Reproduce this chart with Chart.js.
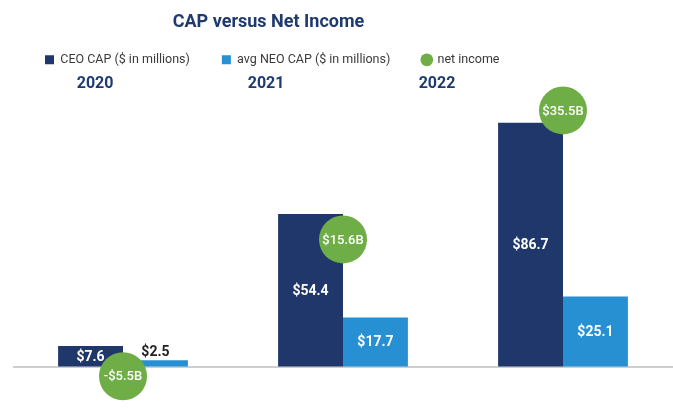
<!DOCTYPE html>
<html>
<head>
<meta charset="utf-8">
<script src="https://cdn.jsdelivr.net/npm/chart.js@4"></script>
<style>
  body { margin: 0; background: #fff; }
  #wrap { width: 673px; height: 410px; position: relative; }
</style>
</head>
<body>
<div id="wrap"><canvas id="capChart"></canvas></div>
<script>
// values
const years = [2020, 2021, 2022];
const ceoCap = [7.6, 54.4, 86.7];      // $ in millions
const neoCap = [2.5, 17.7, 25.1];      // $ in millions
const netIncome = [-5.5, 15.6, 35.5];  // $ in billions

const navy = '#1f376b';
const lightBlue = '#2690d2';
const green = '#6fad46';

// labels inside / above the bars and inside the income circles
const valueLabels = {
    id: 'valueLabels',
    afterLayout(chart) {
        // the title sits left of centre in the original
        chart.titleBlock.left = 0;
        chart.titleBlock.right = 537;
    },
    afterDatasetsDraw(chart) {
        const ctx = chart.ctx;
        ctx.save();
        ctx.textAlign = 'center';
        chart.data.datasets.forEach((ds, i) => {
            const meta = chart.getDatasetMeta(i);
            meta.data.forEach((el, j) => {
                const v = ds.data[j];
                if (ds.type === 'line') {
                    ctx.font = '500 13px Roboto';
                    ctx.fillStyle = '#fff';
                    ctx.textBaseline = 'middle';
                    const txt = (v < 0 ? '-$' : '$') + Math.abs(v).toFixed(1) + 'B';
                    ctx.fillText(txt, el.x, el.y + 1);
                } else {
                    ctx.font = 'bold 14px Roboto';
                    const h = el.base - el.y;
                    const txt = '$' + v.toFixed(1);
                    if (h < 15) {
                        ctx.fillStyle = '#222';
                        ctx.textBaseline = 'bottom';
                        ctx.fillText(txt, el.x, el.y - 1);
                    } else {
                        ctx.fillStyle = '#fff';
                        ctx.textBaseline = 'middle';
                        ctx.fillText(txt, el.x, (el.y + el.base) / 2 + 1);
                    }
                }
            });
        });
        ctx.restore();
    }
};

const ctx = document.getElementById('capChart').getContext('2d');
new Chart(ctx, {
    data: {
        labels: years.map(String),
        datasets: [
            {
                type: 'bar',
                label: 'CEO CAP ($ in millions)',
                data: ceoCap,
                backgroundColor: navy,
                pointStyle: 'rect',
                borderWidth: 0,
                order: 1,
                categoryPercentage: 0.59,
                barPercentage: 1
            },
            {
                type: 'bar',
                label: 'avg NEO CAP ($ in millions)',
                data: neoCap,
                backgroundColor: lightBlue,
                pointStyle: 'rect',
                borderWidth: 0,
                order: 1,
                categoryPercentage: 0.59,
                barPercentage: 1
            },
            {
                type: 'line',
                label: 'net income',
                data: netIncome,
                yAxisID: 'yNI',
                showLine: false,
                backgroundColor: green,
                borderColor: green,
                borderWidth: 0,
                pointRadius: 24,
                pointHoverRadius: 24,
                pointStyle: 'circle',
                clip: false,
                order: 0
            }
        ]
    },
    plugins: [valueLabels],
    options: {
        responsive: true,
        maintainAspectRatio: false,
        animation: false,
        layout: {
            autoPadding: false,
            padding: { left: 13, right: 0, top: 0, bottom: 0 }
        },
        plugins: {
            tooltip: { enabled: false },
            title: {
                display: true,
                text: 'CAP versus Net Income',
                color: '#1f3a6e',
                font: { family: 'Roboto', size: 18, weight: 'bold' },
                padding: { top: 12, bottom: -12 }
            },
            legend: {
                align: 'start',
                labels: {
                    sort: (a, b) => a.datasetIndex - b.datasetIndex,
                    usePointStyle: true,
                    boxWidth: 9,
                    boxHeight: 9,
                    padding: 32,
                    color: '#3a3a3a',
                    font: { family: 'Roboto', size: 12.5 }
                }
            }
        },
        scales: {
            x: {
                display: false,
                offset: true
            },
            yr: {
                type: 'linear',
                axis: 'x',
                position: 'top',
                min: 2019.52,
                max: 2023.38,
                afterBuildTicks: axis => { axis.ticks = years.map(v => ({ value: v })); },
                grid: { display: false, drawTicks: false },
                border: { display: false },
                ticks: {
                    padding: 0,
                    color: '#1f3a6e',
                    font: { family: 'Roboto', size: 16, weight: 'bold', lineHeight: 1 },
                    callback: v => String(v)
                }
            },
            y: {
                min: -15.1,
                max: 97.6,
                ticks: { display: false, stepSize: 5 },
                border: { display: false },
                grid: {
                    drawTicks: false,
                    lineWidth: 2,
                    color: c => c.tick && c.tick.value === 0 ? '#cfcfcf' : 'rgba(0,0,0,0)'
                }
            },
            yNI: {
                display: false,
                min: -10.71,
                max: 38.33
            }
        }
    }
});
</script>
</body>
</html>
